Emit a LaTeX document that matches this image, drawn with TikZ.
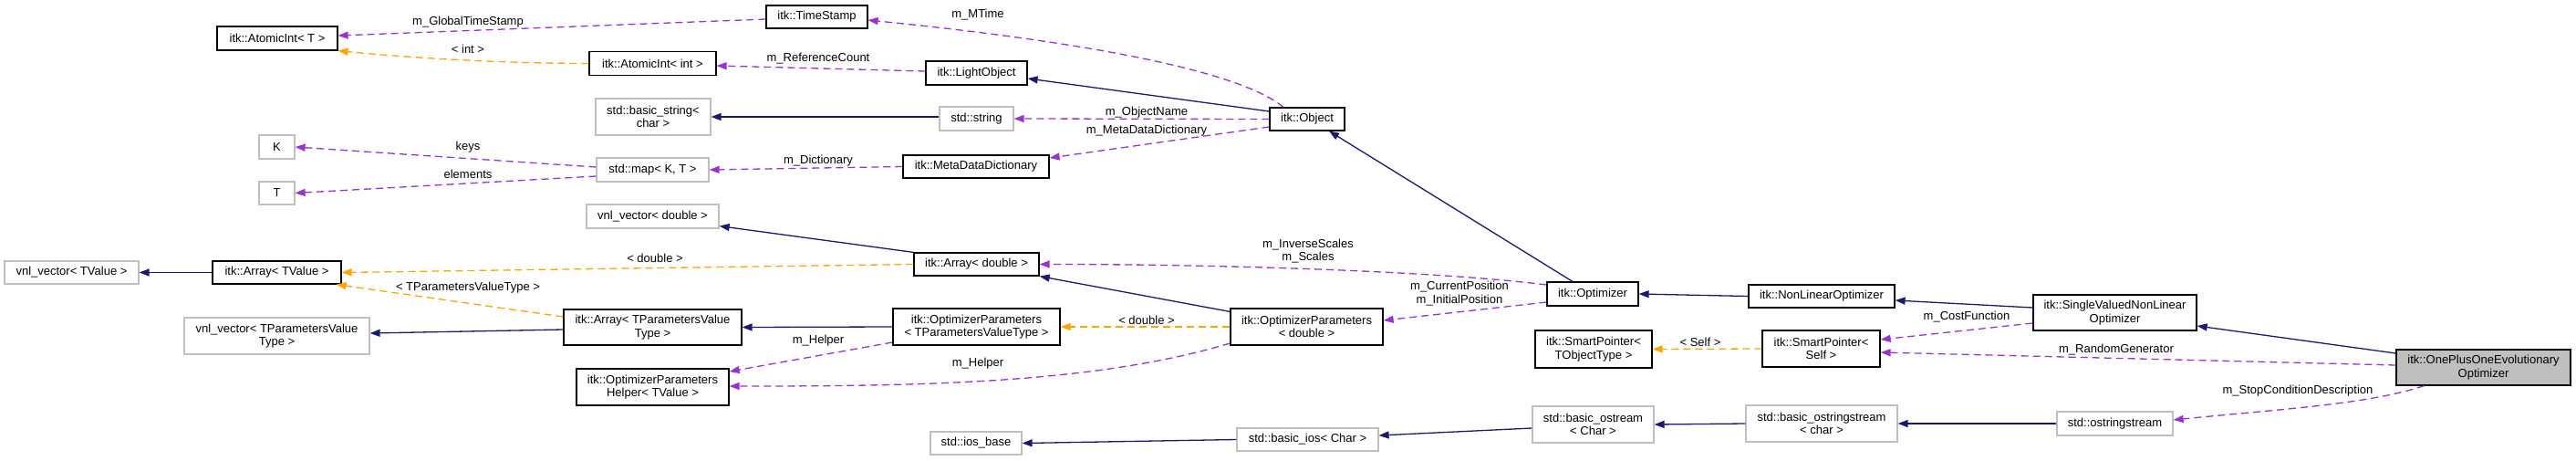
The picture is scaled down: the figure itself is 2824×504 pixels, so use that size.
\documentclass[tikz,border=0pt]{standalone}
\usepackage{fontspec}
\setmainfont{Liberation Sans}
\usetikzlibrary{arrows.meta}
\definecolor{midblue}{HTML}{191970}
\definecolor{orchid}{HTML}{9A32CD}
\definecolor{orangec}{HTML}{FFA500}
\definecolor{greyb}{HTML}{BFBFBF}
\newcommand\dfont{\fontsize{13}{14.5}\selectfont}
\tikzset{
  cls/.style={draw=black, fill=white, line width=1.2pt, inner sep=0pt, align=center, font=\dfont},
  ext/.style={cls, draw=greyb},
  mainc/.style={cls, fill=greyb},
  tip/.style={-{Triangle[length=11pt,width=8pt]}},
  inh/.style={draw=midblue, line width=1.3pt, tip},
  use/.style={draw=orchid, line width=1.3pt, dash pattern=on 8pt off 5pt, tip},
  tmpl/.style={draw=orangec, line width=1.3pt, dash pattern=on 8pt off 5pt, tip},
  lbl/.style={font=\dfont, inner sep=0pt, align=center},
  bx/.style 2 args={minimum width=#1pt, minimum height=#2pt}
}
\begin{document}
\begin{tikzpicture}[x=1pt,y=-1pt]
\useasboundingbox (0,0) rectangle (2824,504);
% nodes
\node[cls,bx={132}{26}] (atT) at (304,42) {itk::AtomicInt< T >};
\node[cls,bx={139}{26}] (atInt) at (715.5,69.5) {itk::AtomicInt< int >};
\node[cls,bx={111}{25}] (ts) at (895.5,18.5) {itk::TimeStamp};
\node[cls,bx={111}{26}] (lo) at (1070.5,80) {itk::LightObject};
\node[ext,bx={126}{40}] (bstr) at (716,128) {std::basic\_string<\\char >};
\node[ext,bx={81}{26}] (str) at (1070.5,130) {std::string};
\node[ext,bx={123}{26}] (map) at (715.5,186) {std::map< K, T >};
\node[cls,bx={160}{25}] (mdd) at (1070,182.5) {itk::MetaDataDictionary};
\node[cls,bx={82}{25}] (obj) at (1433,130.5) {itk::Object};
\node[ext,bx={39}{26}] (K) at (303.5,161) {K};
\node[ext,bx={39}{25}] (T) at (303.5,211.5) {T};
\node[ext,bx={145}{26}] (vnld) at (715.5,237) {vnl\_vector< double >};
\node[cls,bx={137}{25}] (arrd) at (1070.5,289.5) {itk::Array< double >};
\node[ext,bx={147}{25}] (vnlTV) at (78.5,298.5) {vnl\_vector< TValue >};
\node[cls,bx={141}{25}] (arrTV) at (303.5,298.5) {itk::Array< TValue >};
\node[ext,bx={203}{40}] (vnlTP) at (303.5,368) {vnl\_vector< TParametersValue\\Type >};
\node[cls,bx={195}{39}] (arrTP) at (715.5,358.5) {itk::Array< TParametersValue\\Type >};
\node[cls,bx={183}{40}] (opTP) at (1070.5,358) {itk::OptimizerParameters\\< TParametersValueType >};
\node[cls,bx={167}{40}] (helper) at (715.5,424) {itk::OptimizerParameters\\Helper< TValue >};
\node[cls,bx={167}{40}] (opd) at (1432.5,358) {itk::OptimizerParameters\\< double >};
\node[ext,bx={100}{25}] (iosb) at (1070,485.5) {std::ios\_base};
\node[ext,bx={155}{25}] (bios) at (1433.5,481.5) {std::basic\_ios< Char >};
\node[cls,bx={100}{26}] (opt) at (1746,322) {itk::Optimizer};
\node[cls,bx={160}{25}] (nlo) at (1997,324.5) {itk::NonLinearOptimizer};
\node[cls,bx={128}{41}] (spT) at (1747,382.5) {itk::SmartPointer<\\TObjectType >};
\node[cls,bx={129}{40}] (spS) at (1996.5,382) {itk::SmartPointer<\\Self >};
\node[ext,bx={133}{40}] (bos) at (1746.5,465) {std::basic\_ostream\\< Char >};
\node[ext,bx={166}{40}] (boss) at (1997,464) {std::basic\_ostringstream\\< char >};
\node[cls,bx={179}{39}] (svnlo) at (2318.5,342.5) {itk::SingleValuedNonLinear\\Optimizer};
\node[mainc,bx={191}{39}] (opo) at (2722.5,402.5) {itk::OnePlusOneEvolutionary\\Optimizer};
\node[ext,bx={127}{26}] (oss) at (2318.5,464) {std::ostringstream};
% connectors
\draw[use] ([yshift=-2.5]ts.west) -- ([yshift=3]atT.east);
\draw[tmpl] (atInt.west) .. controls +(-90,0) and +(80,8) .. (atT.south east);
\draw[use] ([xshift=-26]obj.north) .. controls +(-55,-45) and +(200,20) .. ([yshift=-3.5]ts.east);
\draw[use] ([yshift=2]lo.west) -- ([yshift=-2.5]atInt.east);
\draw[inh] ([yshift=8.5]obj.west) -- ([yshift=-6]lo.east);
\draw[inh] ([yshift=2]str.west) -- (bstr.east);
\draw[use] (obj.west) -- (str.east);
\draw[use] ([yshift=-8.5]obj.west) -- ([yshift=9.5]mdd.east);
\draw[use] (mdd.west) -- (map.east);
\draw[use] ([yshift=3]map.west) -- (K.east);
\draw[use] ([yshift=-7]map.west) -- (T.east);
\draw[inh] (arrd.north west) -- ([yshift=3]vnld.south east);
\draw[tmpl] (arrd.west) -- (arrTV.east);
\draw[tmpl] ([yshift=11.5]arrTP.west) -- ([xshift=-6]arrTV.south east);
\draw[inh] ([yshift=-2.5]arrTP.west) -- ([yshift=3]vnlTP.east);
\draw[inh] (opTP.west) -- (arrTP.east);
\draw[use] ([yshift=-17]opTP.west) -- ([yshift=17]helper.east);
\draw[use] ([yshift=-18]opd.west) .. controls +(-150,45) and +(200,0) .. ([yshift=1]helper.east);
\draw[tmpl] (opd.west) -- (opTP.east);
\draw[inh] ([yshift=-4]opd.north west) -- (arrd.south east);
\draw[use] ([yshift=10]opt.west) .. controls +(-120,-15) and +(200,0) .. (arrd.east);
\draw[use] ([yshift=-9]opt.west) -- ([yshift=7]opd.east);
\draw[inh] ([xshift=-22]opt.north) -- ([xshift=24]obj.south);
\draw[inh] (nlo.west) -- (opt.east);
\draw[inh] ([yshift=5.5]svnlo.west) -- ([yshift=-4.5]nlo.east);
\draw[use] ([yshift=-11.5]svnlo.west) -- ([yshift=10]spS.east);
\draw[use] ([yshift=2.5]opo.west) -- ([yshift=-4]spS.east);
\draw[inh] ([yshift=15.5]opo.west) -- ([yshift=-14.5]svnlo.east);
\draw[use] ([xshift=-65]opo.south) .. controls +(-60,20) and +(120,-12) .. ([yshift=4]oss.east);
\draw[inh] (oss.west) -- (boss.east);
\draw[inh] (boss.west) -- (bos.east);
\draw[inh] ([yshift=-4]bos.west) -- ([yshift=4.5]bios.east);
\draw[inh] (bios.west) -- (iosb.east);
\draw[tmpl] (spS.west) -- (spT.east);
\draw[inh] (arrTV.west) -- (vnlTV.east);
% labels
\node[lbl] (l1) at (513,24) {m\_GlobalTimeStamp};
\node[lbl] (l2) at (513,54) {< int >};
\node[lbl] (l3) at (513,161) {keys};
\node[lbl] (l4) at (513,191) {elements};
\node[lbl] (l5) at (1072,16) {m\_MTime};
\node[lbl] (l6) at (897,64) {m\_ReferenceCount};
\node[lbl] (l7) at (1257,123) {m\_ObjectName};
\node[lbl] (l8) at (1257,143) {m\_MetaDataDictionary};
\node[lbl] (l9) at (897,176) {m\_Dictionary};
\node[lbl] (l10) at (718,283) {< double >};
\node[lbl] (l11) at (513,315) {< TParametersValueType >};
\node[lbl] (l12) at (897,373) {m\_Helper};
\node[lbl] (l13) at (1072,398) {m\_Helper};
\node[lbl] (l14) at (1257,351) {< double >};
\node[lbl] (l15) at (1434,275) {m\_InverseScales\\m\_Scales};
\node[lbl] (l16) at (1600,321.5) {m\_CurrentPosition\\m\_InitialPosition};
\node[lbl] (l17) at (1864,375) {< Self >};
\node[lbl] (l18) at (2156,347) {m\_CostFunction};
\node[lbl] (l19) at (2320,383) {m\_RandomGenerator};
\node[lbl] (l20) at (2519,428) {m\_StopConditionDescription};
\end{tikzpicture}
\end{document}
